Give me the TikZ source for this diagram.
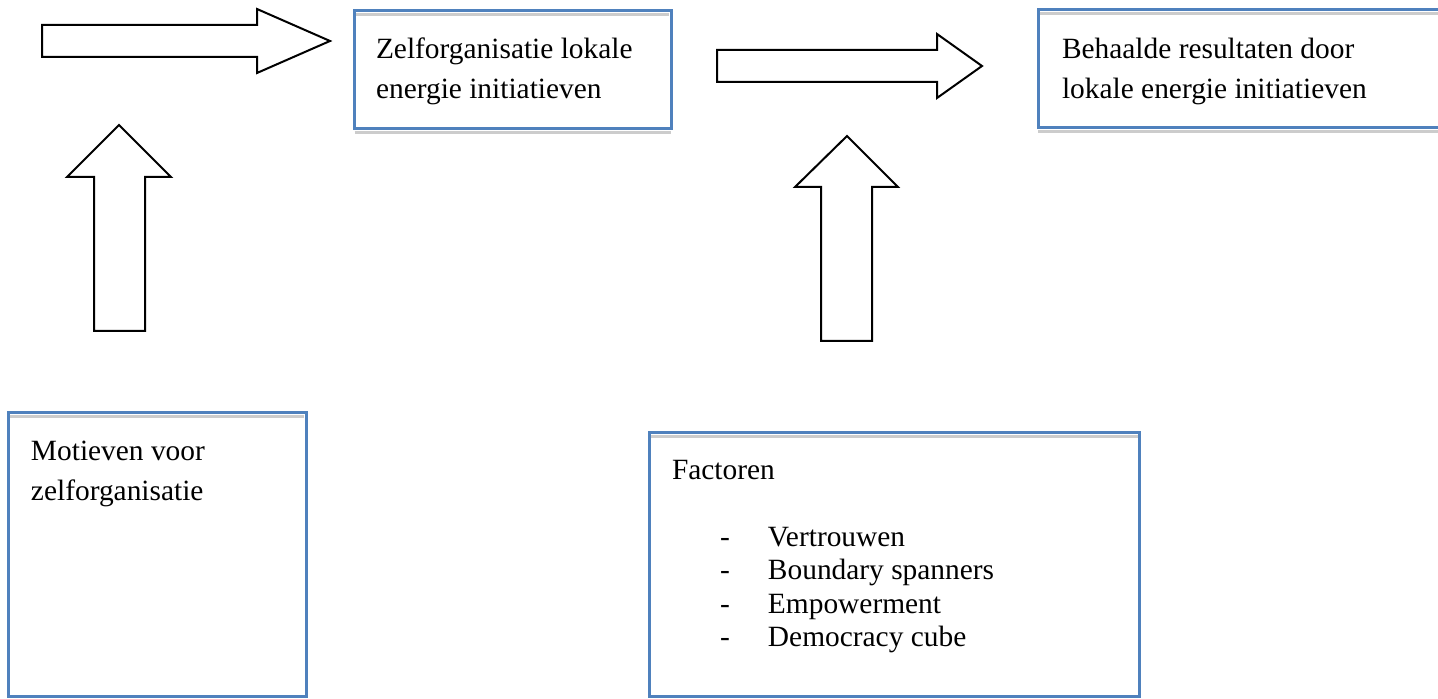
\documentclass[tikz,border=0pt]{standalone}
\usepackage{fontspec}
\setmainfont{Liberation Serif}
\definecolor{boxblue}{HTML}{4F81BD}
\begin{document}
\begin{tikzpicture}[x=0.5pt,y=-0.5pt,
  box/.style={draw=boxblue, line width=1.5pt, fill=white, inner sep=0pt, outer sep=0pt, anchor=north west},
  boxshade/.style={draw=black!20, line width=1.5pt},
  blockarrow/.style={draw=black, line width=1pt, fill=white, line join=miter},
  txt/.style={anchor=base west, inner sep=0pt, outer sep=0pt, align=left, font=\fontsize{14.7}{20}\selectfont},
  listtxt/.style={anchor=base west, inner sep=0pt, outer sep=0pt, font=\fontsize{14.7}{16.75}\selectfont},
]
\clip (0,0) rectangle (1438,699);
\fill[white] (0,0) rectangle (1438,699);

% boxes
\node[box, minimum width=158.25pt, minimum height=59pt] (b1) at (354.5,10.5) {};
\node[box, minimum width=211pt, minimum height=59pt] (b2) at (1038,10) {};
\node[box, minimum width=149pt, minimum height=141.5pt] (b3) at (8,413) {};
\node[box, minimum width=245pt, minimum height=131.5pt] (b4) at (649.5,433) {};
\foreach \b in {b1,b2,b3,b4}{
  \draw[boxshade] ([xshift=0.8pt,yshift=-2pt]\b.north west) -- ([xshift=-0.8pt,yshift=-2pt]\b.north east);
  \draw[boxshade] ([yshift=-2pt]\b.south west) -- ([yshift=-2pt]\b.south east);
}

% texts (base anchor = baseline of the last line)
\node[txt] (t1) at (376,99) {Zelforganisatie lokale\\energie initiatieven};
\node[txt] (t2) at (1062,99) {Behaalde resultaten door\\lokale energie initiatieven};
\node[txt] (t3) at (31,500) {Motieven voor\\zelforganisatie};
\node[txt] (t4) at (672,480) {Factoren};
\node[listtxt] (l4) at (720,546) {\begin{tabular}[t]{@{}p{24pt}@{}l@{}}
-& Vertrouwen\\
-& Boundary spanners\\
-& Empowerment\\
-& Democracy cube
\end{tabular}};

% block arrows
\draw[blockarrow] (42,25) -- (257,25) -- (257,9) -- (330,41) -- (257,73) -- (257,57) -- (42,57) -- cycle;
\draw[blockarrow] (717,50) -- (937,50) -- (937,34) -- (982,66) -- (937,98) -- (937,82) -- (717,82) -- cycle;
\draw[blockarrow] (94,331) -- (94,177) -- (67,177) -- (119,125) -- (171,177) -- (145,177) -- (145,331) -- cycle;
\draw[blockarrow] (821,341) -- (821,187) -- (795,187) -- (847,136) -- (898,187) -- (872,187) -- (872,341) -- cycle;
\end{tikzpicture}
\end{document}
